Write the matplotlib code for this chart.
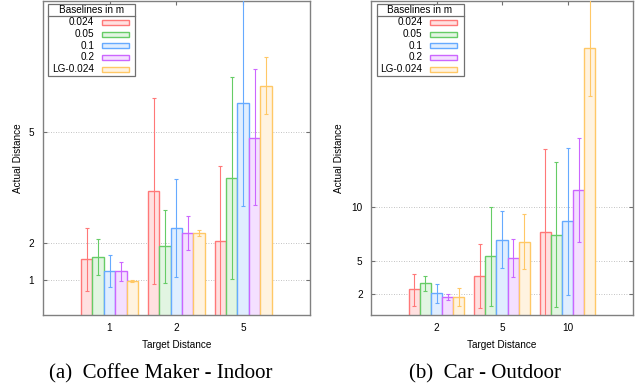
import numpy as np
import matplotlib
matplotlib.use('Agg')
import matplotlib.pyplot as plt
from matplotlib.patches import Rectangle

plt.rcParams['font.family'] = ['Liberation Sans', 'DejaVu Sans']

# baselines (legend) and colours
baselines = ['0.024', '0.05', '0.1', '0.2', 'LG-0.024']
edge_colors = ['#ff7878', '#66cc66', '#66aaff', '#cc66ff', '#ffc866']
face_colors = ['#ffe0e0', '#e2f5e2', '#e0eeff', '#f4e0ff', '#fff3e0']

# (a) coffee maker - indoor
targets_a = ['1', '2', '5']
mean_a = [[1.56, 3.40, 2.06],
          [1.61, 1.91, 3.75],
          [1.24, 2.40, 5.78],
          [1.23, 2.26, 4.84],
          [0.96, 2.26, 6.23]]
low_a = [[0.70, 0.88, 0.00],
         [1.13, 0.91, 1.02],
         [0.80, 1.09, 3.00],
         [0.96, 1.81, 3.03],
         [0.95, 2.18, 5.48]]
high_a = [[2.40, 5.91, 4.08],
          [2.10, 2.88, 6.48],
          [1.66, 3.72, 10.0],
          [1.48, 2.73, 6.69],
          [0.99, 2.34, 7.02]]

# (b) car - outdoor
targets_b = ['2', '5', '10']
mean_b = [[2.48, 3.64, 7.66],
          [3.00, 5.47, 7.42],
          [2.09, 6.96, 8.67],
          [1.73, 5.29, 11.50],
          [1.78, 6.80, 24.47]]
low_b = [[0.96, 0.72, 0.00],
         [2.30, 0.93, 0.81],
         [1.18, 4.37, 1.91],
         [1.48, 3.61, 6.75],
         [0.96, 4.28, 20.14]]
high_b = [[3.83, 6.57, 15.24],
          [3.64, 10.0, 14.05],
          [2.91, 9.58, 15.33],
          [2.00, 7.02, 16.27],
          [2.55, 9.31, 35.0]]

yticks_a = [1, 2, 5]
yticks_b = [2, 5, 10]

W, H = 640, 389
fig = plt.figure(figsize=(W / 100, H / 100), dpi=100)

def make_axes(x0, x1, y0, y1):
    return fig.add_axes([x0 / W, 1 - y1 / H, (x1 - x0) / W, (y1 - y0) / H])

ax_a = make_axes(42.7, 310, 1.3, 315)
ax_b = make_axes(371, 633, 1.3, 315)

width = 0.17

def draw(ax, targets, mean, low, high, yticks, ylim, axw, axh, ypad):
    x = np.arange(1, len(targets) + 1)
    for j in range(len(baselines)):
        pos = x + (j - 2) * width
        m = np.array(mean[j])
        err = [m - np.array(low[j]), np.array(high[j]) - m]
        ax.bar(pos, m, width, color=face_colors[j], edgecolor=edge_colors[j],
               linewidth=1.0, zorder=2)
        ax.errorbar(pos, m, yerr=err, fmt='none', ecolor=edge_colors[j],
                    elinewidth=0.8, capsize=1.3, capthick=0.8, zorder=3)
    ax.set_xlim(0, 4)
    ax.set_ylim(*ylim)
    ax.set_xticks(x)
    ax.set_xticklabels(targets)
    ax.set_yticks(yticks)
    ax.set_yticklabels([str(t) for t in yticks])
    ax.grid(axis='y', linestyle=(0, (1, 2)), color='#b0b0b0', linewidth=0.6)
    ax.set_axisbelow(True)
    for s in ax.spines.values():
        s.set_color('#808080')
        s.set_linewidth(1.0)
    ax.tick_params(direction='in', length=3, width=0.8, color='#707070',
                   top=True, right=True, labelsize=7.2, pad=6)
    ax.set_xlabel('Target Distance', fontsize=7.2, labelpad=5)
    ax.set_ylabel('Actual Distance', fontsize=7.2, labelpad=ypad)

    # gnuplot-style key, placed in pixels from axes top-left
    def fx(px):
        return px / axw
    def fy(py):
        return 1 - py / axh
    tr = ax.transAxes
    ax.add_patch(Rectangle((fx(5.5), fy(74.5)), fx(87), 71.5 / axh,
                           transform=tr, fill=True, facecolor='white',
                           edgecolor='#707070', linewidth=0.9, zorder=5))
    ax.plot([fx(5.5), fx(92.5)], [fy(14.5), fy(14.5)], transform=tr,
            color='#707070', linewidth=0.9, zorder=6)
    ax.text(fx(49), fy(9), 'Baselines in m', transform=tr, fontsize=7.2,
            ha='center', va='center', zorder=6)
    for j, lab in enumerate(baselines):
        yy = 21 + j * 11.7
        ax.text(fx(51.5), fy(yy), lab, transform=tr, fontsize=7.2,
                ha='right', va='center', zorder=6)
        ax.add_patch(Rectangle((fx(59), fy(yy + 2.5)), fx(27), 5 / axh,
                               transform=tr, facecolor=face_colors[j],
                               edgecolor=edge_colors[j], linewidth=1.0, zorder=6))

draw(ax_a, targets_a, mean_a, low_a, high_a, yticks_a, (0.05, 8.53), 267.3, 313.7, 4)
draw(ax_b, targets_b, mean_b, low_b, high_b, yticks_b, (0.1, 28.76), 262, 313.7, 5)

fig.text(161 / W, 1 - 374 / H, '(a)  Coffee Maker - Indoor', ha='center', va='center',
         fontsize=15, family=['Liberation Serif', 'DejaVu Serif'])
fig.text(485 / W, 1 - 374 / H, '(b)  Car - Outdoor', ha='center', va='center',
         fontsize=15, family=['Liberation Serif', 'DejaVu Serif'])

fig.savefig('out.png', dpi=100)
